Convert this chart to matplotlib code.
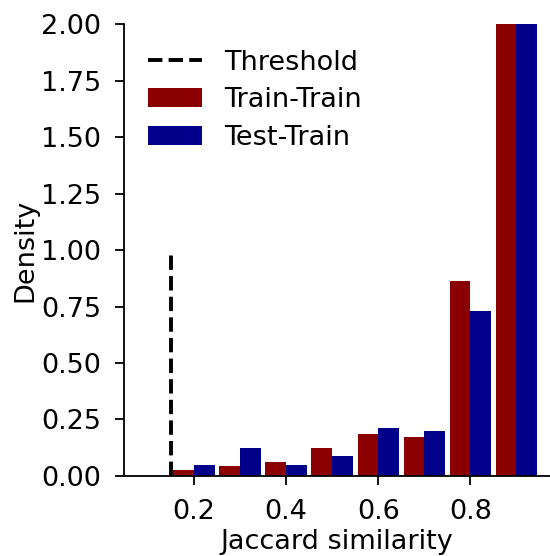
import numpy as np
import matplotlib
matplotlib.use("Agg")
import matplotlib.pyplot as plt

# bin edges of the Jaccard-similarity histogram
EDGES = [0.15, 0.25, 0.35, 0.45, 0.55, 0.65, 0.75, 0.85, 0.95]
# density per bin (last bin clipped at 2.0)
TRAIN_TRAIN = [0.028, 0.044, 0.060, 0.125, 0.187, 0.174, 0.863, 8.52]
TEST_TRAIN = [0.049, 0.125, 0.049, 0.087, 0.212, 0.200, 0.730, 8.55]
THRESHOLD = 0.15
THRESH_TOP = 1.0

plt.rcParams.update({
    "font.size": 19.5,
    "axes.linewidth": 1.3,
    "xtick.major.size": 6.5, "ytick.major.size": 6.5,
    "xtick.major.width": 1.3, "ytick.major.width": 1.3,
    "xtick.major.pad": 10, "ytick.major.pad": 10,
})

centers = [(a + b) / 2 for a, b in zip(EDGES[:-1], EDGES[1:])]

fig = plt.figure(figsize=(5.5, 5.56), dpi=100)
ax = fig.add_axes([0.2255, 0.1439, 0.7745, 0.8129])

ax.hist([centers, centers], bins=EDGES, weights=[TRAIN_TRAIN, TEST_TRAIN],
        rwidth=0.9, color=["#8b0000", "#00008b"], label=["Train-Train", "Test-Train"])
ax.vlines(THRESHOLD, 0, THRESH_TOP, colors="black", linestyles="--", lw=2.8, label="Threshold")

ax.set_xlim(0.048, 0.973)
ax.set_ylim(0, 2.0)
ax.set_yticks(np.arange(0, 2.01, 0.25))
ax.set_xticks([0.2, 0.4, 0.6, 0.8])
ax.set_xlabel("Jaccard similarity", labelpad=3)
ax.set_ylabel("Density", labelpad=2)
ax.spines["top"].set_visible(False)
ax.spines["right"].set_visible(False)

h, l = ax.get_legend_handles_labels()
order = [l.index("Threshold"), l.index("Train-Train"), l.index("Test-Train")]
ax.legend([h[i] for i in order], [l[i] for i in order], loc="upper left",
          frameon=False, bbox_to_anchor=(-0.001, 0.997), labelspacing=0.42)

fig.savefig("out.png", dpi=100)
